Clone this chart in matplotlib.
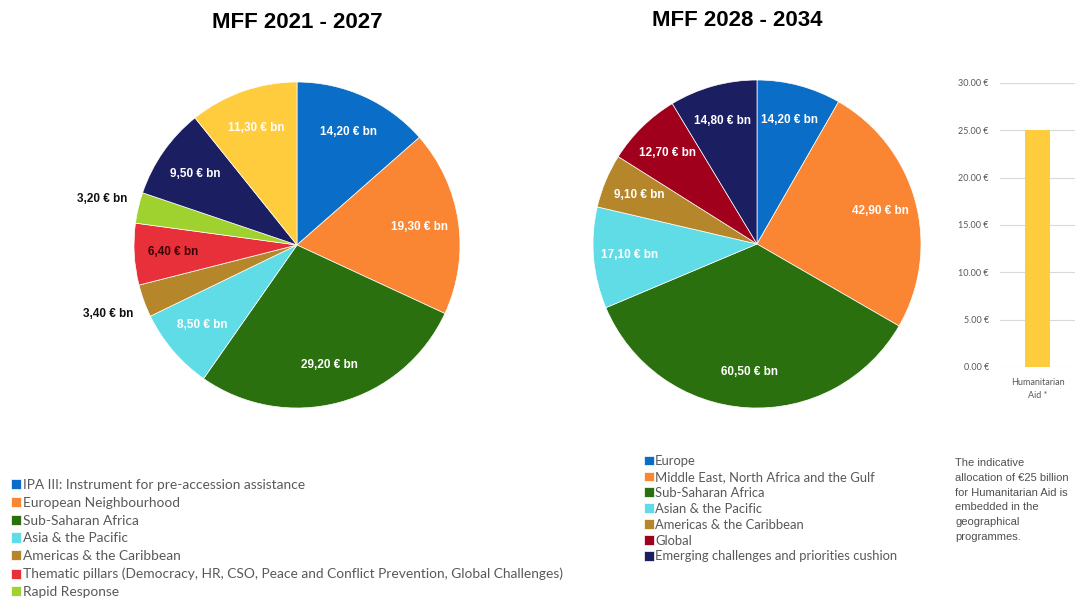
import matplotlib
matplotlib.use("Agg")
import matplotlib.pyplot as plt
import numpy as np

# left pie: MFF 2021 - 2027 (billion EUR)
old_labels = ["IPA III: Instrument for pre-accession assistance", "European Neighbourhood",
              "Sub-Saharan Africa", "Asia & the Pacific", "Americas & the Caribbean",
              "Thematic pillars (Democracy, HR, CSO, Peace and Conflict Prevention, Global Challenges)",
              "Rapid Response", "", ""]
old_values = [14.20, 19.30, 29.20, 8.50, 3.40, 6.40, 3.20, 9.50, 11.30]
old_colors = ["#0A6EC8", "#FA8532", "#2A700E", "#60DCE6", "#B5862A", "#E8303A",
              "#9FD22E", "#1B1F62", "#FFCC3D"]
old_legend_n = 7

# right pie: MFF 2028 - 2034
new_labels = ["Europe", "Middle East, North Africa and the Gulf", "Sub-Saharan Africa",
              "Asian & the Pacific", "Americas & the Caribbean", "Global",
              "Emerging challenges and priorities cushion"]
new_values = [14.20, 42.90, 60.50, 17.10, 9.10, 12.70, 14.80]
new_colors = ["#0A6EC8", "#FA8532", "#2A700E", "#60DCE6", "#B5862A", "#A0001C", "#1B1F62"]

# bar: humanitarian aid
bar_labels = ["Humanitarian\nAid *"]
bar_values = [25.0]
bar_ticks = [0, 5, 10, 15, 20, 25, 30]

note = ("The indicative\nallocation of \u20ac25 billion\nfor Humanitarian Aid is\n"
        "embedded in the\ngeographical\nprogrammes.")

W, H = 1083, 599
fig = plt.figure(figsize=(W / 100, H / 100), dpi=100)
fig.patch.set_facecolor("white")


def box(x0, y0, x1, y1):
    # pixel box (top-left origin) -> figure fraction
    return [x0 / W, 1 - y1 / H, (x1 - x0) / W, (y1 - y0) / H]


def fmt(v):
    return ("%.2f" % v).replace(".", ",") + " \u20ac bn"


def draw_pie(ax, values, colors, inner_r, outside, dark):
    wedges, _ = ax.pie(values, colors=colors, startangle=90, counterclock=False,
                       wedgeprops=dict(linewidth=0.5, edgecolor="white"))
    total = sum(values)
    cum = 0
    for i, v in enumerate(values):
        mid = np.deg2rad(90 - (cum + v / 2) / total * 360)
        cum += v
        if i in outside:
            r, col = 1.23, "#111111"
        else:
            r, col = inner_r, ("#3a0000" if i in dark else "white")
        ax.text(r * np.cos(mid), r * np.sin(mid), fmt(v), ha="center", va="center",
                fontsize=8.5, fontweight="bold", color=col, family="Liberation Sans")
    ax.set_xlim(-1, 1)
    ax.set_ylim(-1, 1)
    ax.set_aspect("equal")
    return wedges


ax1 = fig.add_axes(box(134, 82, 460, 408))
w1 = draw_pie(ax1, old_values, old_colors, 0.76, outside=[4, 6], dark=[5])
ax2 = fig.add_axes(box(593, 80, 921, 408))
w2 = draw_pie(ax2, new_values, new_colors, 0.78, outside=[], dark=[])

fig.text(297 / W, 1 - 23 / H, "MFF 2021 - 2027", ha="center", va="center",
         fontsize=16, fontweight="bold", family="Liberation Sans")
fig.text(737 / W, 1 - 21 / H, "MFF 2028 - 2034", ha="center", va="center",
         fontsize=16, fontweight="bold", family="Liberation Sans")

leg1 = fig.legend(w1[:old_legend_n], old_labels[:old_legend_n], loc="upper left",
                  bbox_to_anchor=(11 / W, 1 - 479 / H), frameon=False,
                  prop=dict(family="Lato", size=9.9), labelcolor="#595959",
                  handlelength=0.75, handleheight=0.75, handletextpad=0.1,
                  labelspacing=0.42, borderaxespad=0, borderpad=0)
leg2 = fig.legend(w2, new_labels, loc="upper left",
                  bbox_to_anchor=(644 / W, 1 - 455 / H), frameon=False,
                  prop=dict(family="Lato", size=9.4), labelcolor="#595959",
                  handlelength=0.75, handleheight=0.75, handletextpad=0.1,
                  labelspacing=0.3, borderaxespad=0, borderpad=0)

fig.text(955 / W, 1 - 458 / H, note, ha="left", va="top", fontsize=8,
         family="Liberation Sans", color="#505050", linespacing=1.6)

# humanitarian aid bar
ax3 = fig.add_axes(box(1000, 83, 1075, 367))
ax3.bar([0], bar_values, width=0.34, color="#FFCC3D", zorder=3)
ax3.set_xlim(-0.5, 0.5)
ax3.set_ylim(0, 30)
ax3.set_yticks(bar_ticks)
ax3.set_yticklabels(["%.2f \u20ac" % t for t in bar_ticks])
ax3.set_xticks([0])
ax3.set_xticklabels(bar_labels)
ax3.grid(axis="y", color="#d9d9d9", linewidth=0.8, zorder=0)
for s in ax3.spines.values():
    s.set_visible(False)
ax3.tick_params(length=0, labelsize=6.5, labelcolor="#595959", pad=8)
for t in ax3.get_xticklabels():
    t.set_fontfamily("Lato")
    t.set_linespacing(1.5)
for t in ax3.get_yticklabels():
    t.set_fontfamily("Lato")

fig.savefig("out.png", dpi=100, facecolor="white")
